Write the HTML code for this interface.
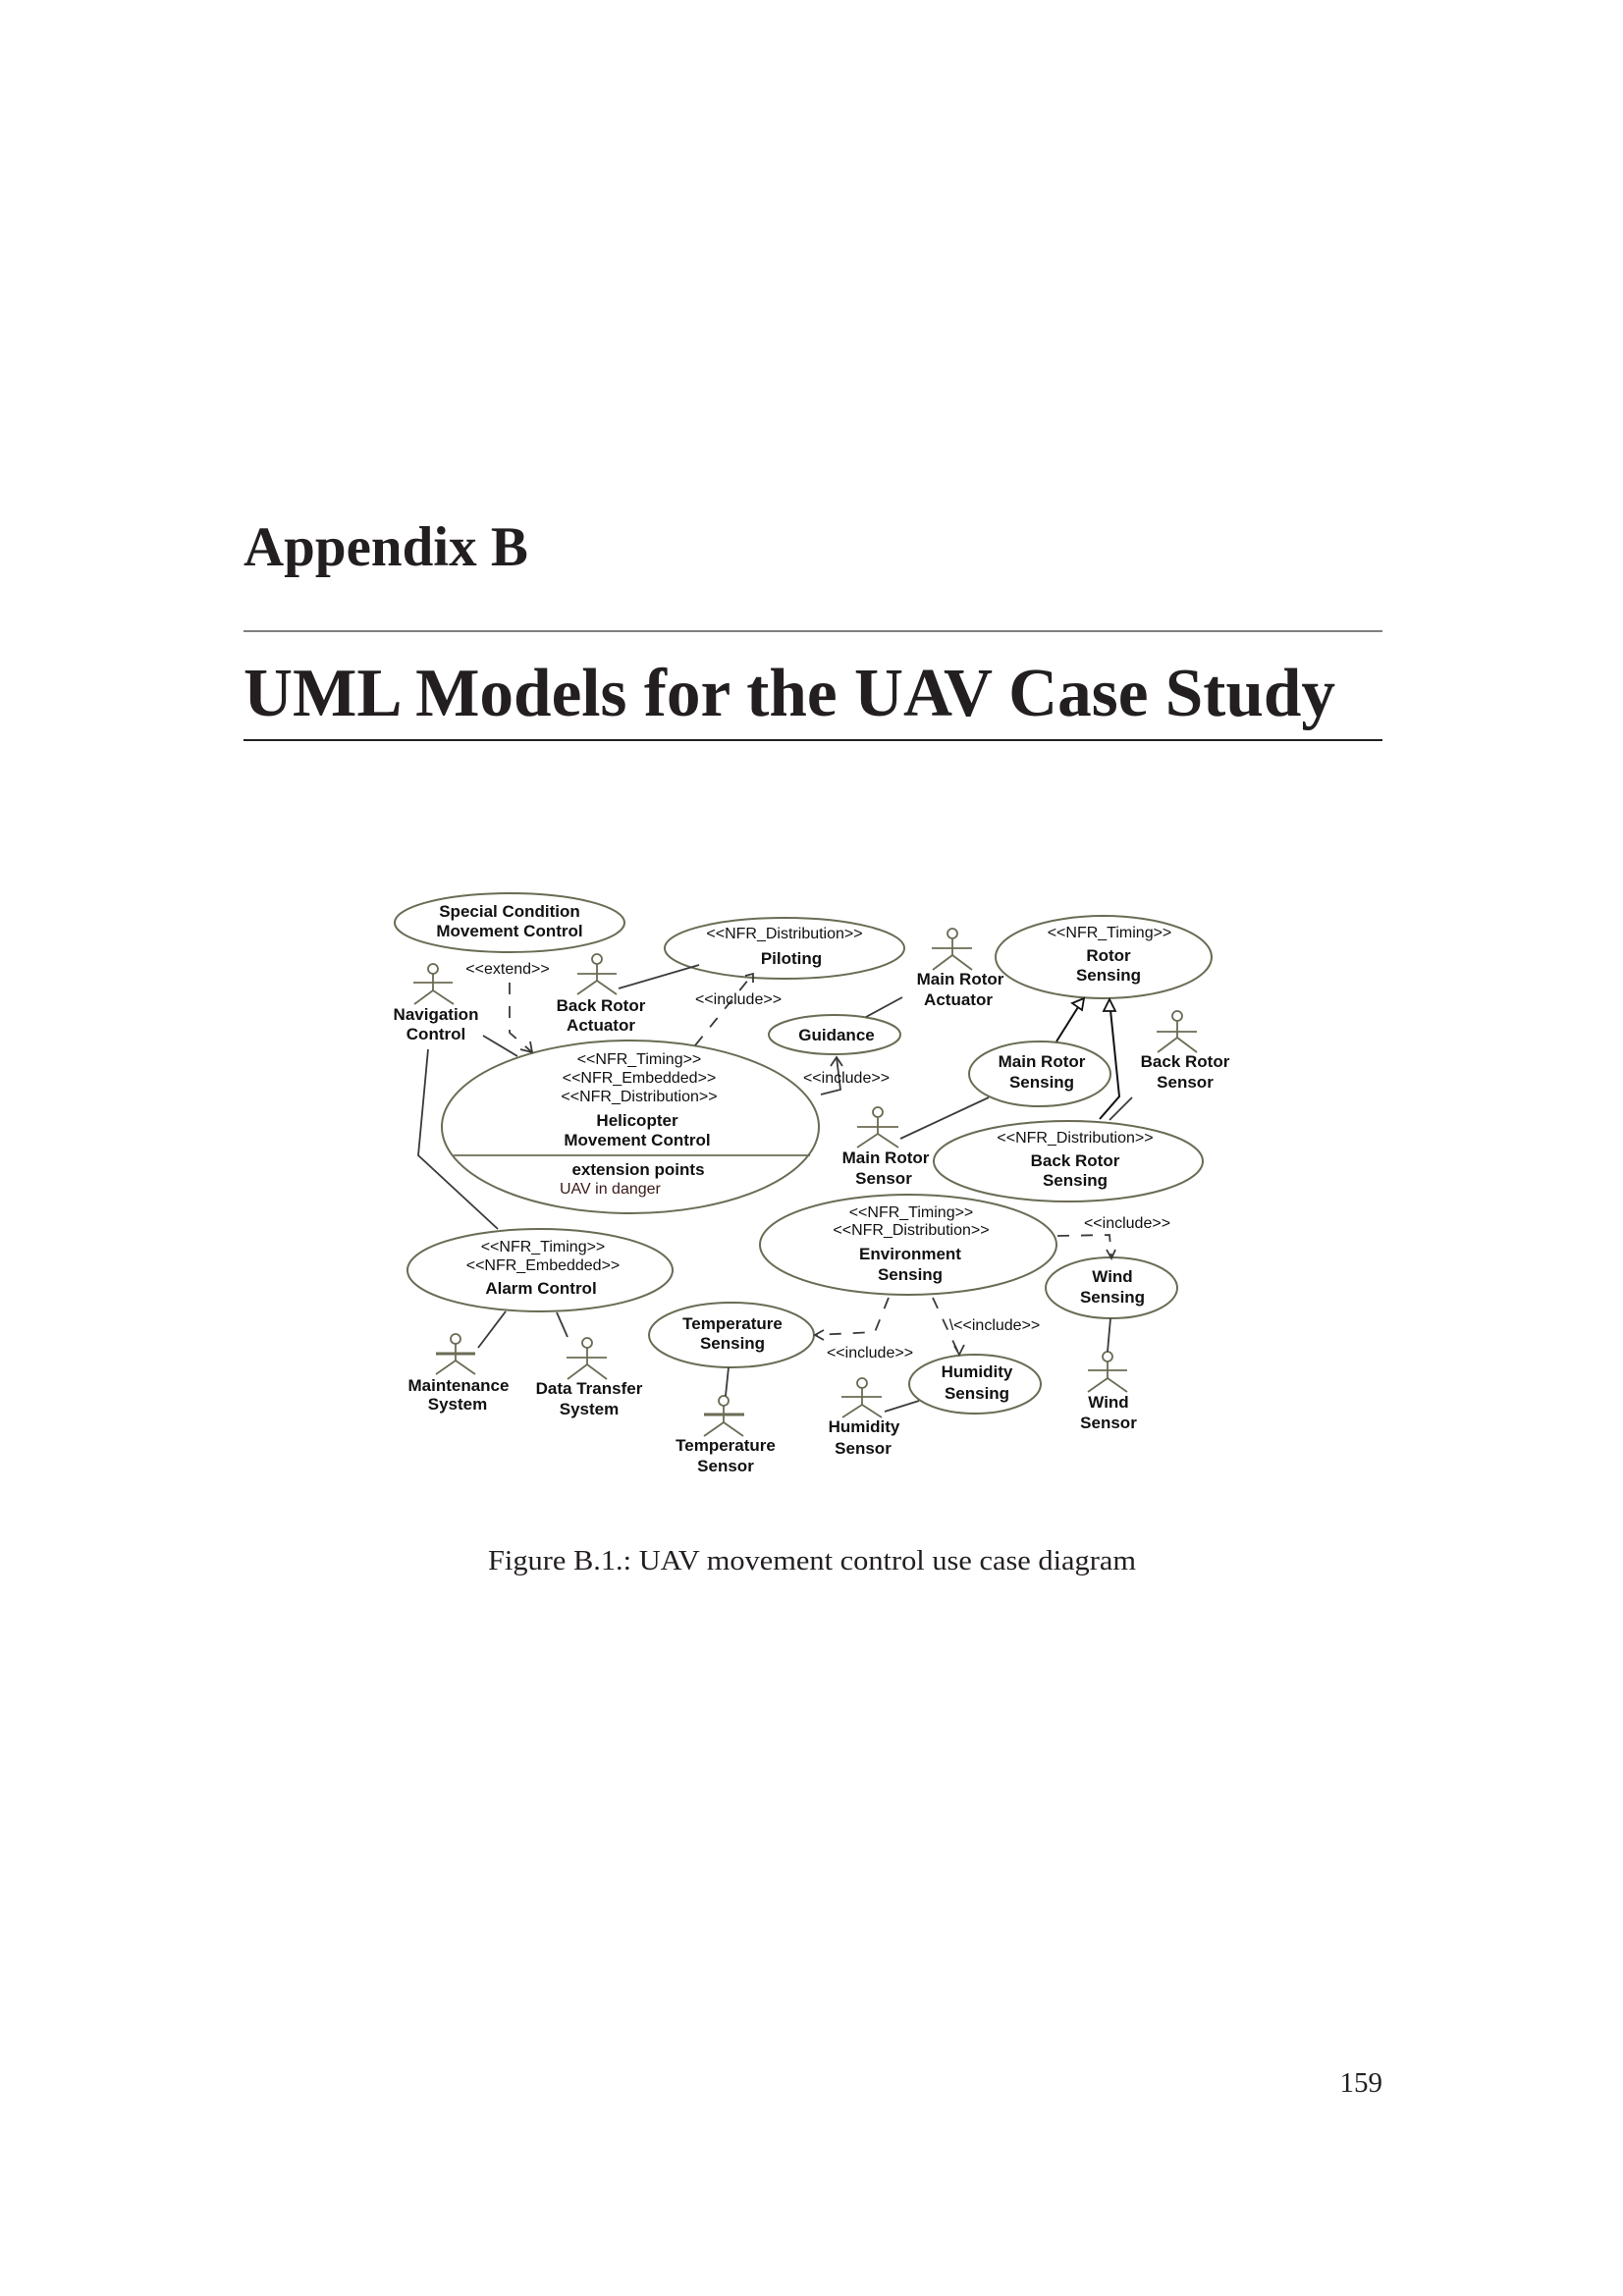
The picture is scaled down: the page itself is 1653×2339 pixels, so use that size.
<!DOCTYPE html>
<html><head><meta charset="utf-8"><style>
html,body{margin:0;padding:0;background:#fff}
svg{display:block}
.h{font-family:"Liberation Serif",serif;font-weight:bold;fill:#231f20}
.l{font-family:"Liberation Sans",sans-serif;font-weight:bold;font-size:17px;fill:#111;text-anchor:middle}
.s{font-family:"Liberation Sans",sans-serif;font-size:16px;fill:#111;text-anchor:middle}
.e{fill:none;stroke:#6b6b55;stroke-width:2}
.ln{stroke:#3a3a3a;stroke-width:1.8;fill:none}
.d{stroke:#3a3a3a;stroke-width:1.8;fill:none;stroke-dasharray:12 12}
.a{stroke:#6b6b55;stroke-width:1.8;fill:none}
</style></head><body>
<svg width="1653" height="2339" viewBox="0 0 1653 2339" xmlns="http://www.w3.org/2000/svg">
<text class="h" x="248" y="576" font-size="57">Appendix B</text>
<line x1="248" y1="643" x2="1408" y2="643" stroke="#555" stroke-width="1.5"/>
<text class="h" x="248" y="729" font-size="70" textLength="1112" lengthAdjust="spacingAndGlyphs">UML Models for the UAV Case Study</text>
<line x1="248" y1="754" x2="1408" y2="754" stroke="#222" stroke-width="2"/>
<text x="497" y="1599" font-family="Liberation Serif,serif" font-size="29" fill="#231f20" textLength="660" lengthAdjust="spacingAndGlyphs">Figure B.1.: UAV movement control use case diagram</text>
<text x="1408" y="2131" font-family="Liberation Serif,serif" font-size="29" fill="#231f20" text-anchor="end">159</text>

<!-- ellipses -->
<ellipse class="e" cx="519" cy="940" rx="117" ry="30"/>
<text class="l" x="519" y="934">Special Condition</text><text class="l" x="519" y="954">Movement Control</text>
<ellipse class="e" cx="799" cy="966" rx="122" ry="31"/>
<text class="s" x="799" y="956">&lt;&lt;NFR_Distribution&gt;&gt;</text><text class="l" x="806" y="982">Piloting</text>
<ellipse class="e" cx="1124" cy="975" rx="110" ry="42"/>
<text class="s" x="1130" y="955">&lt;&lt;NFR_Timing&gt;&gt;</text><text class="l" x="1129" y="979">Rotor</text><text class="l" x="1129" y="999">Sensing</text>
<ellipse class="e" cx="850" cy="1054" rx="67" ry="20"/>
<text class="l" x="852" y="1060">Guidance</text>
<ellipse class="e" cx="642" cy="1148" rx="192" ry="88"/>
<line x1="462" y1="1177" x2="825" y2="1177" stroke="#6b6b55" stroke-width="1.8"/>
<text class="s" x="651" y="1084">&lt;&lt;NFR_Timing&gt;&gt;</text>
<text class="s" x="651" y="1103">&lt;&lt;NFR_Embedded&gt;&gt;</text>
<text class="s" x="651" y="1122">&lt;&lt;NFR_Distribution&gt;&gt;</text>
<text class="l" x="649" y="1147">Helicopter</text><text class="l" x="649" y="1167">Movement Control</text>
<text class="l" x="650" y="1197">extension points</text>
<text x="570" y="1216" font-family="Liberation Sans,sans-serif" font-size="16" fill="#3a1a1a">UAV in danger</text>
<ellipse class="e" cx="1059" cy="1094" rx="72" ry="33"/>
<text class="l" x="1061" y="1087">Main Rotor</text><text class="l" x="1061" y="1108">Sensing</text>
<ellipse class="e" cx="1088" cy="1183" rx="137" ry="41"/>
<text class="s" x="1095" y="1164">&lt;&lt;NFR_Distribution&gt;&gt;</text><text class="l" x="1095" y="1188">Back Rotor</text><text class="l" x="1095" y="1208">Sensing</text>
<ellipse class="e" cx="550" cy="1294" rx="135" ry="42"/>
<text class="s" x="553" y="1275">&lt;&lt;NFR_Timing&gt;&gt;</text><text class="s" x="553" y="1294">&lt;&lt;NFR_Embedded&gt;&gt;</text><text class="l" x="551" y="1318">Alarm Control</text>
<ellipse class="e" cx="925" cy="1268" rx="151" ry="51"/>
<text class="s" x="928" y="1240">&lt;&lt;NFR_Timing&gt;&gt;</text><text class="s" x="928" y="1258">&lt;&lt;NFR_Distribution&gt;&gt;</text><text class="l" x="927" y="1283">Environment</text><text class="l" x="927" y="1304">Sensing</text>
<ellipse class="e" cx="1132" cy="1312" rx="67" ry="31"/>
<text class="l" x="1133" y="1306">Wind</text><text class="l" x="1133" y="1327">Sensing</text>
<ellipse class="e" cx="745" cy="1360" rx="84" ry="33"/>
<text class="l" x="746" y="1354">Temperature</text><text class="l" x="746" y="1374">Sensing</text>
<ellipse class="e" cx="993" cy="1410" rx="67" ry="30"/>
<text class="l" x="995" y="1403">Humidity</text><text class="l" x="995" y="1425">Sensing</text>

<!-- actors -->
<g class="a">
<g transform="translate(441,987)"><circle r="5"/><line x1="0" y1="5" x2="0" y2="22"/><line x1="-20" y1="14" x2="20" y2="14"/><line x1="0" y1="22" x2="-19" y2="36"/><line x1="0" y1="22" x2="21" y2="36"/></g>
<g transform="translate(608,977)"><circle r="5"/><line x1="0" y1="5" x2="0" y2="22"/><line x1="-20" y1="15" x2="20" y2="15"/><line x1="0" y1="22" x2="-20" y2="36"/><line x1="0" y1="22" x2="20" y2="36"/></g>
<g transform="translate(970,951)"><circle r="5"/><line x1="0" y1="5" x2="0" y2="22"/><line x1="-21" y1="15" x2="20" y2="15"/><line x1="0" y1="22" x2="-20" y2="37"/><line x1="0" y1="22" x2="20" y2="37"/></g>
<g transform="translate(1199,1035)"><circle r="5"/><line x1="0" y1="5" x2="0" y2="22"/><line x1="-21" y1="16" x2="20" y2="16"/><line x1="0" y1="22" x2="-20" y2="37"/><line x1="0" y1="22" x2="20" y2="37"/></g>
<g transform="translate(894,1133)"><circle r="5"/><line x1="0" y1="5" x2="0" y2="22"/><line x1="-21" y1="15" x2="21" y2="15"/><line x1="0" y1="22" x2="-21" y2="36"/><line x1="0" y1="22" x2="21" y2="36"/></g>
<g transform="translate(1128,1382)"><circle r="5"/><line x1="0" y1="5" x2="0" y2="22"/><line x1="-20" y1="14" x2="20" y2="14"/><line x1="0" y1="22" x2="-20" y2="36"/><line x1="0" y1="22" x2="20" y2="36"/></g>
<g transform="translate(737,1427)"><circle r="5"/><line x1="0" y1="5" x2="0" y2="22"/><line x1="-20" y1="14" x2="21" y2="14" stroke-width="3"/><line x1="0" y1="22" x2="-20" y2="36"/><line x1="0" y1="22" x2="20" y2="36"/></g>
<g transform="translate(878,1409)"><circle r="5"/><line x1="0" y1="5" x2="0" y2="22"/><line x1="-21" y1="14" x2="20" y2="14"/><line x1="0" y1="22" x2="-20" y2="35"/><line x1="0" y1="22" x2="20" y2="35"/></g>
<g transform="translate(464,1364)"><circle r="5"/><line x1="0" y1="5" x2="0" y2="22"/><line x1="-20" y1="15" x2="20" y2="15" stroke-width="3"/><line x1="0" y1="22" x2="-20" y2="36"/><line x1="0" y1="22" x2="20" y2="36"/></g>
<g transform="translate(598,1368)"><circle r="5"/><line x1="0" y1="5" x2="0" y2="22"/><line x1="-21" y1="15" x2="20" y2="15"/><line x1="0" y1="22" x2="-20" y2="37"/><line x1="0" y1="22" x2="20" y2="37"/></g>
</g>
<text class="l" x="444" y="1039">Navigation</text><text class="l" x="444" y="1059">Control</text>
<text class="l" x="612" y="1030">Back Rotor</text><text class="l" x="612" y="1050">Actuator</text>
<text class="l" x="978" y="1003">Main Rotor</text><text class="l" x="976" y="1024">Actuator</text>
<text class="l" x="1207" y="1087">Back Rotor</text><text class="l" x="1207" y="1108">Sensor</text>
<text class="l" x="902" y="1185">Main Rotor</text><text class="l" x="900" y="1206">Sensor</text>
<text class="l" x="1129" y="1434">Wind</text><text class="l" x="1129" y="1455">Sensor</text>
<text class="l" x="739" y="1478">Temperature</text><text class="l" x="739" y="1499">Sensor</text>
<text class="l" x="880" y="1459">Humidity</text><text class="l" x="879" y="1481">Sensor</text>
<text class="l" x="467" y="1417">Maintenance</text><text class="l" x="466" y="1436">System</text>
<text class="l" x="600" y="1420">Data Transfer</text><text class="l" x="600" y="1441">System</text>

<!-- connectors -->
<line class="ln" x1="630" y1="1007" x2="712" y2="983"/>
<line class="ln" x1="492" y1="1055" x2="527" y2="1076"/>
<polyline class="ln" points="436,1069 426,1177 507,1252"/>
<line class="ln" x1="919" y1="1016" x2="882" y2="1036"/>
<line class="ln" x1="917" y1="1160" x2="1007" y2="1118"/>
<line class="ln" x1="1153" y1="1118" x2="1130" y2="1141"/>
<line class="ln" x1="1131" y1="1343" x2="1128" y2="1377"/>
<line class="ln" x1="742" y1="1393" x2="739" y2="1422"/>
<line class="ln" x1="901" y1="1438" x2="936" y2="1427"/>
<line class="ln" x1="515" y1="1336" x2="487" y2="1373"/>
<line class="ln" x1="567" y1="1337" x2="578" y2="1362"/>
<!-- generalizations -->
<line x1="1076" y1="1061" x2="1098" y2="1026" stroke="#111" stroke-width="2"/>
<polygon points="1104,1017 1092,1022 1102,1029" fill="#fff" stroke="#111" stroke-width="1.8"/>
<polyline points="1120,1140 1140,1117 1131,1029" fill="none" stroke="#111" stroke-width="2"/>
<polygon points="1130,1018 1124,1030 1136,1030" fill="#fff" stroke="#111" stroke-width="1.8"/>
<!-- extend -->
<text class="s" x="517" y="992">&lt;&lt;extend&gt;&gt;</text>
<polyline class="d" points="519,1001 519,1052 542,1072"/>
<polyline class="ln" points="530,1069 542,1072 540,1061"/>
<!-- includes -->
<polyline class="d" points="708,1065 767,992"/>
<polyline class="ln" points="759,994 767,992 767,1001"/>
<text class="s" x="752" y="1023">&lt;&lt;include&gt;&gt;</text>
<polyline class="ln" points="836,1115 856,1110 852,1077"/>
<polyline class="ln" points="846,1086 852,1077 858,1086"/>
<text class="s" x="862" y="1103">&lt;&lt;include&gt;&gt;</text>
<polyline class="d" points="1077,1259 1130,1258 1132,1282" stroke-dasharray="10 12"/>
<polyline class="ln" points="1127,1273 1132,1282 1136,1273"/>
<text class="s" x="1148" y="1251">&lt;&lt;include&gt;&gt;</text>
<polyline class="d" points="905,1322 891,1357 830,1360" stroke-dasharray="12 12"/>
<polyline class="ln" points="839,1355 830,1360 839,1365"/>
<text class="s" x="886" y="1383">&lt;&lt;include&gt;&gt;</text>
<polyline class="d" points="950,1322 977,1380" stroke-dasharray="8 10"/>
<polyline class="ln" points="972,1371 977,1380 982,1370"/>
<text class="s" x="1013" y="1355">\&lt;&lt;include&gt;&gt;</text>
</svg>
</body></html>
